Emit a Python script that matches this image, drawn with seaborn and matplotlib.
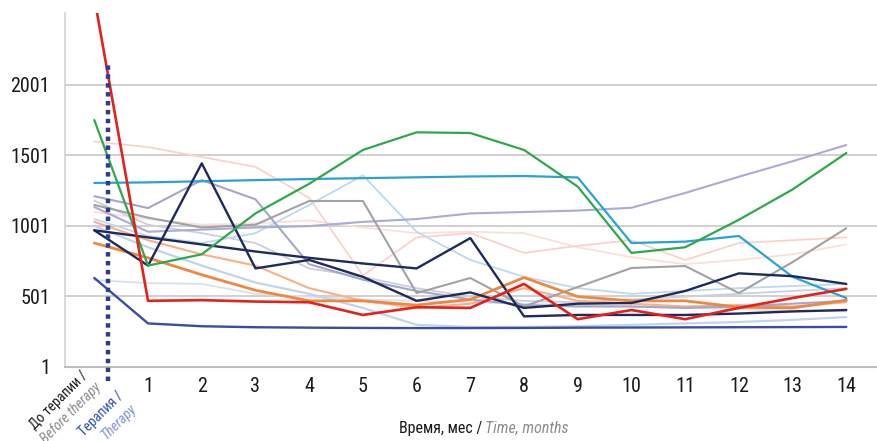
import matplotlib
matplotlib.use("Agg")
import matplotlib.pyplot as plt
from matplotlib import font_manager as fm
from matplotlib.ticker import FixedLocator
import seaborn as sns
import pandas as pd
import numpy as np

# ---------------- data ----------------
months = list(range(15))                      # 0 = before therapy, 1..14 months
month_labels = [str(i) for i in range(1, 15)]
y_ticks = [1, 501, 1001, 1501, 2001]

red        = [2620, 470, 475, 465, 460, 370, 425, 420, 590, 340, 405, 340, 420, 490, 555]
green      = [1752, 720, 800, 1090, 1300, 1540, 1665, 1660, 1540, 1280, 810, 850, 1045, 1260, 1518]
cyan       = [1306, 1310, 1318, 1326, 1334, 1340, 1346, 1352, 1355, 1345, 880, 890, 930, 640, 490]
lavender   = [1135, 960, 975, 990, 1000, 1030, 1050, 1090, 1100, 1110, 1130, 1235, 1350, 1460, 1575]
gray       = [1150, 1060, 990, 1010, 1178, 1178, 525, 632, 430, 568, 703, 717, 525, 745, 985]
graylav    = [1212, 1128, 1326, 1190, 730, 620, 540, 480, 440, 430, 430, 420, 430, 450, 470]
navy_a     = [970, 720, 1445, 700, 760, 640, 470, 530, 420, 450, 455, 540, 665, 645, 590]
navy_b     = [970, 920, 870, 820, 775, 735, 700, 915, 360, 370, 370, 370, 380, 395, 405]
blue       = [632, 310, 290, 283, 280, 278, 277, 277, 278, 280, 281, 282, 283, 284, 285]
orange     = [880, 775, 655, 545, 470, 470, 440, 480, 635, 500, 470, 470, 425, 420, 475]
peach      = [1030, 900, 800, 720, 560, 470, 420, 450, 560, 470, 450, 430, 440, 430, 460]
pink_hi    = [1600, 1560, 1490, 1420, 1200, 650, 920, 950, 810, 860, 900, 760, 880, 900, 920]
pink_lo    = [1100, 1050, 1010, 1020, 1040, 990, 950, 960, 950, 850, 780, 730, 760, 800, 870]
ltblue_pk  = [1050, 930, 880, 950, 1150, 1360, 960, 760, 640, 560, 520, 540, 560, 575, 590]
ltblue_lo  = [1000, 850, 720, 600, 520, 420, 300, 285, 285, 290, 300, 310, 320, 335, 355]
paleblue   = [617, 596, 590, 520, 500, 480, 470, 460, 450, 440, 430, 420, 410, 400, 395]
ltgray     = [1180, 1010, 950, 880, 700, 640, 560, 500, 470, 460, 480, 500, 520, 540, 560]

series = {
    "pink_lo": pink_lo, "pink_hi": pink_hi, "paleblue": paleblue, "ltgray": ltgray,
    "ltblue_lo": ltblue_lo, "ltblue_pk": ltblue_pk, "peach": peach, "lavender": lavender,
    "graylav": graylav, "gray": gray, "orange": orange, "cyan": cyan, "blue": blue,
    "navy_a": navy_a, "navy_b": navy_b, "green": green, "red": red,
}

# ---------------- styles ----------------
styles = {
    "pink_lo":   ("#FBE0DA", 1.3),
    "pink_hi":   ("#F9D3CB", 1.3),
    "paleblue":  ("#D6E1F1", 1.3),
    "ltgray":    ("#CDCEDD", 1.3),
    "ltblue_lo": ("#C2D4EC", 1.6),
    "ltblue_pk": ("#BFD8EF", 1.3),
    "peach":     ("#F6B08A", 1.5),
    "lavender":  ("#A9ABD9", 1.5),
    "graylav":   ("#A3A7C6", 1.5),
    "gray":      ("#A2A2A2", 1.5),
    "orange":    ("#EF8740", 2.0),
    "cyan":      ("#2BA2D6", 1.6),
    "blue":      ("#3A4CA6", 1.7),
    "navy_a":    ("#1F2A5C", 1.7),
    "navy_b":    ("#1F2A5C", 1.7),
    "green":     ("#2EA84B", 1.6),
    "red":       ("#E4211A", 1.9),
}

df = pd.DataFrame(
    [(name, m, v) for name, vals in series.items() for m, v in zip(months, vals)],
    columns=["series", "month", "value"],
)

sns.set_style("white")

# choose a narrow font if one is available
names = {f.name for f in fm.fontManager.ttflist}
stretch = "normal"
scale = 1.0
if "Liberation Sans Narrow" in names:
    family = "Liberation Sans Narrow"
elif "Roboto Condensed" in names:
    family = "Roboto Condensed"
elif "Open Sans Condensed" in names:
    family = "Open Sans Condensed"
elif "DejaVu Sans Condensed" in names:
    family = "DejaVu Sans Condensed"
    scale = 0.92
else:
    family = "Liberation Sans"
    scale = 0.85
plt.rcParams["font.family"] = [family, "DejaVu Sans"]
plt.rcParams["font.stretch"] = stretch

FS = 14.5 * scale
FS_TITLE = 11.5 * scale
FS_ROT = 10.2 * scale

fig = plt.figure(figsize=(8.78, 4.41), dpi=100)
ax = fig.add_axes([65 / 878, 1 - 367 / 441, (878 - 65) / 878, (367 - 13) / 441])

for name in series:
    color, lw = styles[name]
    sns.lineplot(data=df[df.series == name], x="month", y="value", color=color,
                 linewidth=lw, ax=ax, legend=False, sort=False, errorbar=None)

# therapy start marker
ax.vlines(0.25, -100, 2150, colors="#2E3B8E", linestyles=(0, (1, 1)),
          linewidth=3.2, clip_on=False, zorder=5)

ax.set_xlim(-0.546, 14.59)
ax.set_ylim(1, 2511)
ax.set_xlabel("")
ax.set_ylabel("")

ax.set_yticks(y_ticks)
ax.set_yticklabels([str(t) for t in y_ticks])
ax.yaxis.grid(True, color="#C4C4C4", linewidth=1.1)
ax.set_axisbelow(True)

ax.set_xticks(months[1:])
ax.set_xticklabels(month_labels)
ax.xaxis.set_minor_locator(FixedLocator([i + 0.5 for i in range(0, 14)]))
ax.tick_params(axis="x", which="major", length=0, pad=7.5, labelsize=FS, labelcolor="#1a1a1a")
ax.tick_params(axis="x", which="minor", length=4, color="#BBBBBB", width=1, direction="out")
ax.tick_params(axis="y", length=3, color="#C4C4C4", pad=7.8, labelsize=FS, labelcolor="#1a1a1a")

for s in ["top", "right"]:
    ax.spines[s].set_visible(False)
ax.spines["left"].set_color("#CFCFCF")
ax.spines["left"].set_linewidth(1.1)
ax.spines["bottom"].set_color("#BDBDBD")
ax.spines["bottom"].set_linewidth(1.5)

# rotated category labels for position 0 / therapy
W, H = 878, 441
def ftext(px, py, s, **kw):
    fig.text(px / W, 1 - py / H, s, rotation=45, rotation_mode="anchor",
             ha="right", va="center", fontsize=FS_ROT, **kw)

ftext(86, 374, "До терапии /", color="#1a1a1a")
ftext(99, 385, "Before therapy", color="#8C8C8C", style="italic")
ftext(121, 394, "Терапия /", color="#2F4FA6")
ftext(134, 406, "Therapy", color="#8393D6", style="italic")

# x axis title in two colours
fig.text(482 / W, 1 - 428 / H, "Время, мес /", ha="right", va="center",
         fontsize=FS_TITLE, color="#1a1a1a")
fig.text(485 / W, 1 - 428 / H, "Time, months", ha="left", va="center",
         fontsize=FS_TITLE, color="#8C8C8C", style="italic")

fig.savefig("out.png", dpi=100)
